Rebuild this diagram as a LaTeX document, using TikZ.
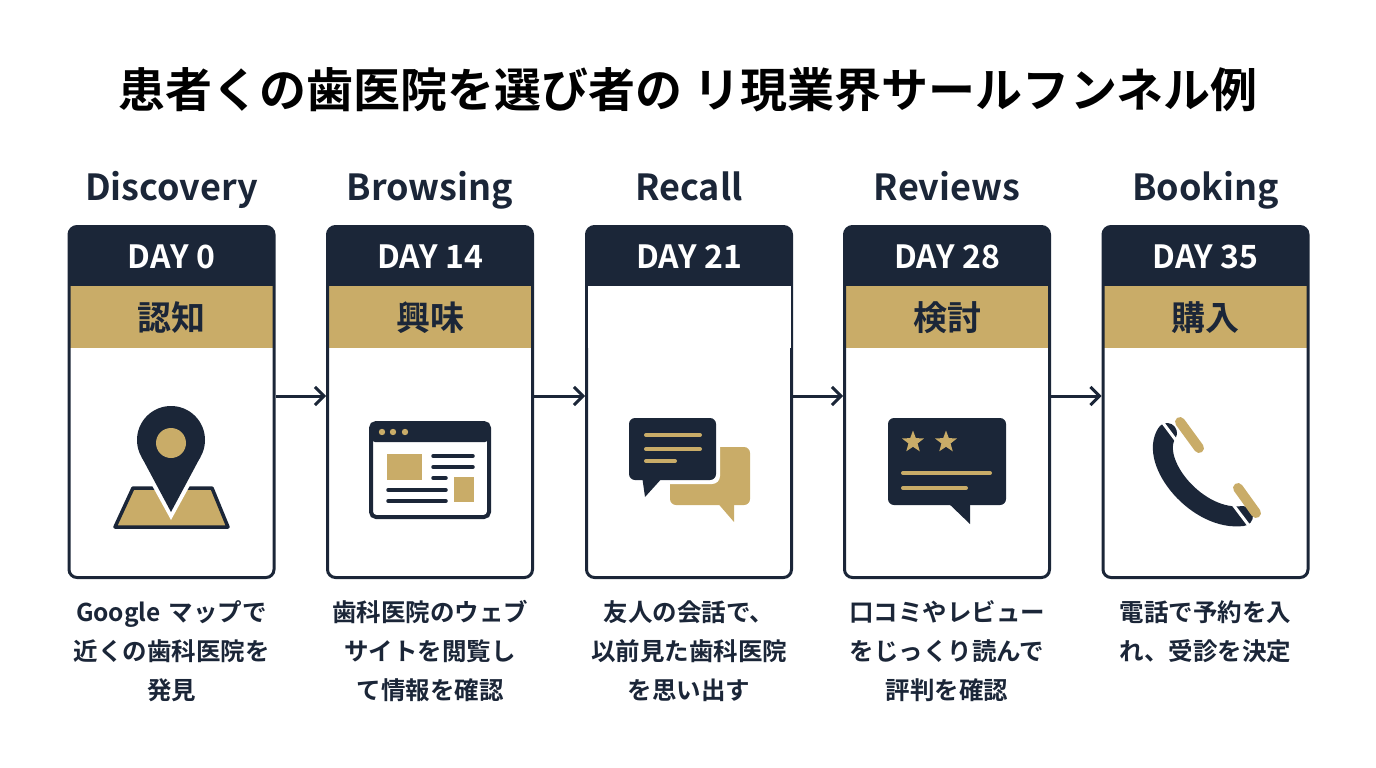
\documentclass[tikz,border=0pt]{standalone}
\usepackage{fontspec}
\setmainfont{Noto Sans CJK JP}[BoldFont={* Bold}]
\usetikzlibrary{arrows.meta,shapes.geometric}
\definecolor{navy}{HTML}{1B2638}
\definecolor{gold}{HTML}{C9AC68}
\begin{document}
\begin{tikzpicture}[x=1pt,y=-1pt,
  card/.style={draw=navy,line width=3pt,rounded corners=8pt,minimum width=205pt,minimum height=351pt,inner sep=0pt},
  ttl/.style={font=\fontsize{36}{40}\selectfont\bfseries,text=navy},
  day/.style={font=\fontsize{32}{34}\selectfont\bfseries,text=white},
  band/.style={font=\fontsize{34}{36}\selectfont\bfseries,text=navy},
  desc/.style={font=\fontsize{24.5}{39}\selectfont\bfseries,text=navy,align=center,text width=250pt},
  arr/.style={draw=navy,line width=3pt,-{Straight Barb[length=9pt,width=18pt,line width=3pt]}},
  gl/.style={draw=gold,line width=4pt,line cap=round},
  nl/.style={draw=navy,line width=3.5pt,line cap=round}]
\useasboundingbox (0,0) rectangle (1376,768);
\node[font=\fontsize{47}{52}\selectfont\bfseries,text=black] (title) at (688,90) {患者くの歯医院を選び者の リ現業界サールフンネル例};
\foreach \i/\x/\t/\d/\b in {1/171.5/Discovery/DAY 0/認知,2/430/Browsing/DAY 14/興味,3/689/Recall/DAY 21/,4/947/Reviews/DAY 28/検討,5/1205.5/Booking/DAY 35/購入}{
  \fill[navy,rounded corners=8pt] (\x-103,226) rectangle (\x+103,292);
  \fill[navy] (\x-103,270) rectangle (\x+103,286);
  \fill[gold] (\x-101.5,286) rectangle (\x+101.5,348);
  \node[card] (c\i) at (\x,402) {};
  \node[ttl,anchor=base] (t\i) at (\x,200) {\t};
  \node[day,anchor=base] (d\i) at (\x,268) {\d};
  \node[band,anchor=base] (b\i) at (\x,330) {\b};
}
\fill[white] (587.5,286) rectangle (790.5,348);
\foreach \i [evaluate=\i as \j using int(\i+1)] in {1,2,3,4}
  \draw[arr] (c\i.east |- 0,396) -- (c\j.west |- 0,396);
% descriptions
\node[desc] (e1) at (171.5,651) {Google マップで\\近くの歯科医院を\\発見};
\node[desc] (e2) at (430,651) {歯科医院のウェブ\\サイトを閲覧し\\て情報を確認};
\node[desc] (e3) at (689,651) {友人の会話で、\\以前見た歯科医院\\を思い出す};
\node[desc] (e4) at (947,651) {口コミやレビュー\\をじっくり読んで\\評判を確認};
\node[desc] (e5) at (1205.5,632) {電話で予約を入\\れ、受診を決定};
% icon 1: pin
\draw[navy,fill=gold,line width=3.5pt,line join=round] (133,488) -- (212,488) -- (228,527) -- (115,527) -- cycle;
\fill[white] (171,440) circle (38);
\fill[white] (171,520) -- (137,458) -- (205,458) -- cycle;
\fill[navy] (171,440) circle (34);
\fill[navy] (171,512) -- (141.6,457) -- (200.4,457) -- cycle;
\fill[gold] (171,443) circle (15);
% icon 2: browser
\draw[navy,line width=4pt,rounded corners=5pt,fill=white] (371,423) rectangle (489,517);
\fill[navy,rounded corners=4pt] (371,423) rectangle (489,442);
\foreach \xx in {382,393,405} \fill[gold] (\xx,432) circle (3.2);
\fill[gold] (387,454) rectangle (422,480);
\fill[gold] (454,477) rectangle (474,502);
\draw[nl] (433,456) -- (473,456); \draw[nl] (433,467) -- (473,467); \draw[nl] (433,478) -- (446,478);
\draw[nl] (388,490) -- (446,490); \draw[nl] (388,501) -- (446,501);
% icon 3: chat
\fill[gold,rounded corners=6pt] (670,447) rectangle (750,505);
\fill[gold] (715,500) -- (734,522) -- (734,500) -- cycle;
\fill[white,rounded corners=8pt] (625,414) rectangle (720,484);
\fill[white] (638,480) -- (641,503) -- (665,480) -- cycle;
\fill[navy,rounded corners=6pt] (629,418) rectangle (716,480);
\fill[navy] (642,476) -- (645,497) -- (664,476) -- cycle;
\draw[gl] (646,435) -- (700,435); \draw[gl] (646,449) -- (700,449); \draw[gl] (646,461) -- (675,461);
% icon 4: review
\fill[navy,rounded corners=6pt] (888,418) rectangle (1006,505);
\fill[navy] (945,500) -- (970,524) -- (970,500) -- cycle;
\foreach \xx in {913,946} \node[star,star points=5,star point ratio=2.4,fill=gold,inner sep=0pt,minimum size=23pt] at (\xx,442) {};
\draw[gl] (903,473) -- (990,473); \draw[gl] (903,488) -- (966,488);
% icon 5: phone
\draw[navy,line width=20pt,line cap=round] (1167,433) .. controls (1148,462) and (1198,522) .. (1243,516);
\draw[white,line width=3pt] (1163,423) -- (1190,459);
\draw[gold,line width=10pt,line cap=round] (1180,422) -- (1199,448);
\draw[white,line width=3pt] (1222,490) -- (1250,527);
\draw[gold,line width=10pt,line cap=round] (1238,488) -- (1256,513);
\end{tikzpicture}
\end{document}
